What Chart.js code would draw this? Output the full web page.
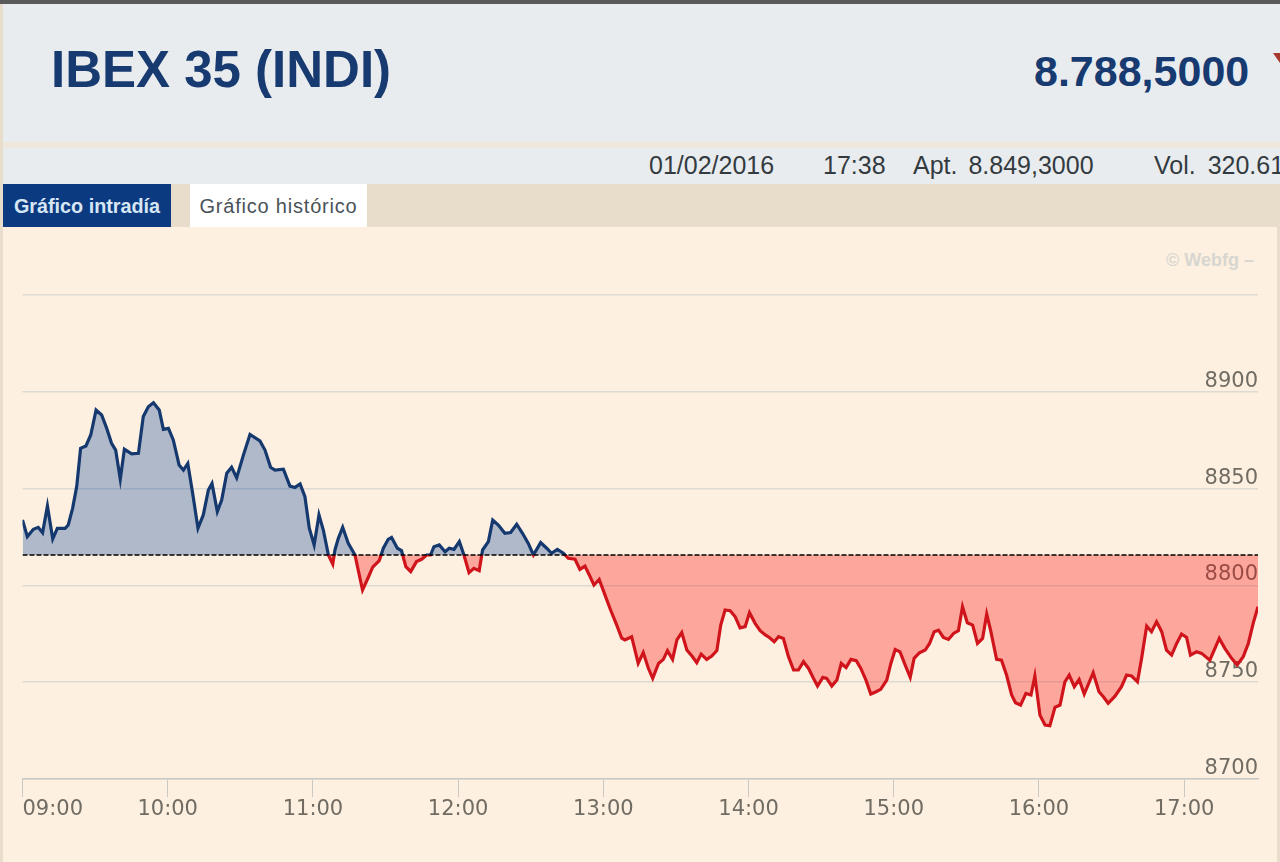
<!DOCTYPE html>
<html lang="es">
<head>
<meta charset="utf-8">
<title>IBEX 35 (INDI)</title>
<script src="https://cdn.jsdelivr.net/npm/chart.js@4/dist/chart.umd.min.js"></script>
<style>
  html, body { margin: 0; padding: 0; width: 1280px; height: 862px; overflow: hidden; background: #e8dccb; font-family: "Liberation Sans", Arial, sans-serif; }
  div { position: absolute; white-space: nowrap; }
  #topline { left: 0; top: 0; width: 1280px; height: 4px; background: #5a5a5a; }
  #head { left: 3px; top: 4px; width: 1277px; height: 138px; background: #e9ecef; }
  #strip { left: 3px; top: 142px; width: 1277px; height: 6px; background: #efe6dc; }
  #info { left: 3px; top: 148px; width: 1277px; height: 36px; background: #e9ecef; }
  #tabs { left: 3px; top: 184px; width: 1277px; height: 43px; background: #e8dccb; }
  #tab1 { left: 3px; top: 184px; width: 168px; height: 43px; background: #0b3a80; color: #d6e6f5; font: bold 19.8px/44px "Liberation Sans"; text-align: center; }
  #tab2 { left: 190px; top: 184px; width: 177px; height: 43px; background: #fff; color: #4a5358; font: 20px/44px "Liberation Sans"; text-align: center; letter-spacing: 0.8px; }
  #title { left: 51px; top: 40px; color: #173a70; font: bold 51px/60px "Liberation Sans"; }
  #price { left: 1034px; top: 45px; color: #173a70; font: bold 43px/52px "Liberation Sans"; }
  #arrow { left: 1273px; top: 53px; width: 0; height: 0; border-left: 9px solid transparent; border-right: 9px solid transparent; border-top: 13px solid #a8392f; }
  .meta { top: 147px; color: #333b40; font: 25px/36px "Liberation Sans"; }
  #panel { left: 3px; top: 227px; width: 1274px; height: 635px; background: #fdf0e0; }
  #mark { left: 1166px; top: 250px; color: #d8d6d0; font: bold 18px/20px "Liberation Sans"; }
  canvas { position: absolute; left: 0; top: 227px; }
</style>
</head>
<body>
<div id="topline"></div>
<div id="head"></div>
<div id="strip"></div>
<div id="info"></div>
<div id="tabs"></div>
<div id="tab1">Gráfico intradía</div>
<div id="tab2">Gráfico histórico</div>
<div id="title">IBEX 35 (INDI)</div>
<div id="price">8.788,5000</div>
<div id="arrow"></div>
<div class="meta" style="left:649px">01/02/2016</div>
<div class="meta" style="left:823px">17:38</div>
<div class="meta" style="left:913px;word-spacing:4px">Apt. 8.849,3000</div>
<div class="meta" style="left:1154px;word-spacing:5px">Vol. 320.61</div>
<div id="panel"></div>
<div id="mark">© Webfg –</div>
<canvas id="grafico" width="1280" height="635"></canvas>
<script>
// minutes after 09:00
const minutos = [0,2,4.5,6.5,8.3,10.3,12.5,14.4,17.6,18.9,20.7,22.4,24,26.2,28.2,30.4,32.7,34.8,36.8,38.5,40.4,42.1,45.1,47.9,49.9,52,54.1,56.5,58.2,60.3,62.3,64.7,66.5,68.3,70.3,72.5,74.7,76.8,78.3,80.5,82.3,84.4,86.4,88.5,91.3,94,98.1,100.2,102.5,104.3,107.8,110.5,112.6,114.7,116.7,118.5,120.5,122.5,124.3,126.4,128.2,
  129.1,130.5,132.3,134.6,137.4,138.7,140.5,142.9,144.7,147.4,149.1,151.1,152.5,154.9,156.6,158.4,160.4,162.8,164.9,167,168.6,170,172.2,174.6,176.3,178.3,180.5,182.4,184.5,186.5,188.7,190.1,192.5,194.3,196.6,199.3,201.7,204.2,206.6,209,211.1,214.1,216.6,218.6,221,223.5,225.5,228.3,230.3,232.4,234.2,236.1,238.3,240.7,243,245.5,247.6,248.9,251.7,254.4,256.5,258.6,260.4,
  262.8,264.8,266.5,268.6,270.4,272.4,274.5,276.6,278.6,280.4,282.7,284.8,286.9,288.5,290.3,292.4,294.5,296.5,298.6,300.4,302.7,304.8,306.9,308.6,310.6,312.4,314.4,316.5,318.6,320.6,322.7,324.8,326.8,328.5,330.7,332.3,334.4,336.5,338.3,340.3,342.3,344.5,346.4,348.6,350.5,352.7,354.6,357.1,358.8,360.6,362.6,364.7,366.8,368.4,370.6,373,374.8,376.7,378.5,380.5,382.6,384.7,386.7,
  388.4,390.4,392.6,394.6,396.7,398.4,400,402.5,404.5,406.6,408.7,410.3,412.4,414.6,416.7,418.3,420.4,422.5,424.5,426.6,428.7,430.7,432.5,434.6,436.6,438.7,442.4,444.8,446.6,448.6,451.4,454.1,456.2,458.3,460.7,462.4,464.5,466.5,468.6,470.7,472.7,474.8,476.9,478.9,481,482.6,485.1,487.2,490.6,494.5,496.8,499.6,501.9,504.4,506.5,508.5,510.5];
const valores = [8833.8,8825.2,8829,8830,8827.2,8841,8824,8829.5,8829.5,8831.2,8839.8,8851,8870.8,8872,8877.7,8890.6,8888,8881.1,8873.4,8869.9,8854.8,8870.3,8867.9,8868.2,8887.2,8892.3,8894.4,8890.6,8880.6,8881.1,8875.1,8862.2,8859.6,8863,8847.6,8829.5,8836.4,8849.3,8852.7,8838.1,8844.1,8857.9,8861,8855.6,8867.4,8878,8874.6,8869.9,8861,8859.6,8860,8851.3,8850.6,8852.4,8845.8,8829.5,8820.9,8836.4,8828.6,8815.7,8811,
  8818.3,8824.3,8830,8821.7,8815.7,8808,8797.6,8804.2,8809.4,8812.8,8819.2,8823.8,8824.8,8819.2,8818,8809.7,8807.1,8812.3,8813.5,8815.7,8815.7,8820,8820.9,8817.4,8819.2,8818.6,8822.6,8815.7,8806.6,8808.8,8807.6,8818.3,8822.6,8833.8,8831.2,8826.9,8827.3,8831.6,8826.9,8821.7,8815.7,8822.1,8819.2,8816.6,8818.6,8816.6,8814,8813.5,8808.3,8810,8805.4,8800.2,8803.1,8795,8787.3,8779.6,8772.7,8771.8,8773.5,8759.8,8765.3,8757.2,8752,
  8759.7,8761.8,8766.3,8761.8,8771.8,8775.6,8766.6,8763.5,8760.1,8764.5,8761.8,8763.5,8766.3,8779.5,8787.3,8786.9,8783.8,8778.1,8778.7,8785.9,8780.4,8776.6,8774.4,8773.1,8770.9,8773.5,8772.6,8763.2,8756.3,8756.3,8760.6,8757.1,8752,8748,8752.5,8752,8748,8751.1,8759.7,8757.6,8761.8,8761.1,8757.1,8750.8,8743.9,8745.1,8746.3,8751.1,8759.7,8766.9,8765.7,8758.9,8752.5,8762.3,8765.2,8766.6,8770,8776.1,8776.9,8773.1,8772.1,8775.2,8776.6,
  8789,8780.7,8779.5,8770,8772.6,8785.2,8776.9,8761.8,8761.4,8753.7,8743.4,8739.4,8738.2,8744.2,8743.4,8753.2,8733,8727.9,8727.5,8737,8738.2,8750.2,8753.7,8747.7,8751.4,8743.9,8754.9,8745.1,8742.5,8739.1,8742.8,8747.7,8753.7,8753.2,8750.2,8762.3,8779,8776.1,8781.2,8776.1,8766.6,8764,8770,8774.9,8773.1,8764,8765.7,8764.9,8761.4,8772.6,8767.5,8762.3,8758.9,8763.2,8770,8780.4,8789];
const cierreAnterior = 8815.7;
const horas = ["09:00","10:00","11:00","12:00","13:00","14:00","15:00","16:00","17:00"];
const horasMin = [0,60,120,180,240,300,360,420,480];
const nivelesY = [8700,8750,8800,8850,8900,8950];
const etiquetasY = ["8700","8750","8800","8850","8900",""];
const finMin = 510.5;

const AZUL = "#15396f";
const ROJO = "#d0141c";

// line is navy above the previous close and red under it
function colorLinea(ctx) {
  const chart = ctx.chart;
  if (!chart.chartArea) return AZUL;
  const area = chart.chartArea;
  const yBase = chart.scales.y.getPixelForValue(cierreAnterior);
  const g = chart.ctx.createLinearGradient(0, area.top, 0, area.bottom);
  const stop = (yBase - area.top) / (area.bottom - area.top);
  g.addColorStop(0, AZUL);
  g.addColorStop(stop, AZUL);
  g.addColorStop(stop, ROJO);
  g.addColorStop(1, ROJO);
  return g;
}

new Chart(document.getElementById("grafico").getContext("2d"), {
  type: "line",
  data: {
    datasets: [
      {
        label: "Cierre anterior",
        data: [{ x: 0, y: cierreAnterior }, { x: finMin, y: cierreAnterior }],
        borderColor: "#000",
        borderWidth: 1.5,
        borderDash: [5, 2],
        pointRadius: 0,
        fill: false,
      },
      {
        label: "IBEX 35",
        data: minutos.map((m, i) => ({ x: m, y: valores[i] })),
        borderColor: colorLinea,
        borderWidth: 3.2,
        pointRadius: 0,
        tension: 0,
        fill: {
          target: { value: cierreAnterior },
          above: "rgba(0, 60, 150, 0.3)",
          below: "rgba(255, 0, 0, 0.3)",
        },
      },
    ],
  },
  options: {
    responsive: false,
    animation: false,
    layout: { padding: { left: 22.5, right: 22, top: 68, bottom: 0 } },
    plugins: { legend: { display: false }, tooltip: { enabled: false } },
    scales: {
      x: {
        type: "linear",
        min: 0,
        max: finMin,
        afterFit: (axis) => { axis.height = 83; },
        afterBuildTicks: (axis) => {
          axis.ticks = horasMin.concat(finMin).map((v) => ({ value: v }));
        },
        grid: {
          drawOnChartArea: false,
          tickLength: 18,
          tickColor: (ctx) => (ctx.tick && ctx.tick.value === finMin ? "transparent" : "#c9c8c2"),
        },
        border: { color: "#c9c8c2", width: 1.5 },
        ticks: {
          align: "inner",
          maxRotation: 0,
          autoSkip: false,
          padding: 0,
          color: "#706c63",
          font: { family: "DejaVu Sans", size: 21 },
          callback: (v) => { const i = horasMin.indexOf(v); return i < 0 ? "" : horas[i]; },
        },
      },
      y: {
        position: "right",
        min: 8700,
        max: 8950,
        afterFit: (axis) => { axis.width = 0; },
        afterBuildTicks: (axis) => { axis.ticks = nivelesY.map((v) => ({ value: v })); },
        grid: { color: "#dcdad3", lineWidth: 1.5, drawTicks: false },
        border: { display: false },
        ticks: {
          mirror: true,
          padding: 0,
          labelOffset: -10.5,
          color: "#706c63",
          font: { family: "DejaVu Sans", size: 21 },
          callback: (v) => etiquetasY[nivelesY.indexOf(v)],
        },
      },
    },
  },
});
</script>
</body>
</html>
